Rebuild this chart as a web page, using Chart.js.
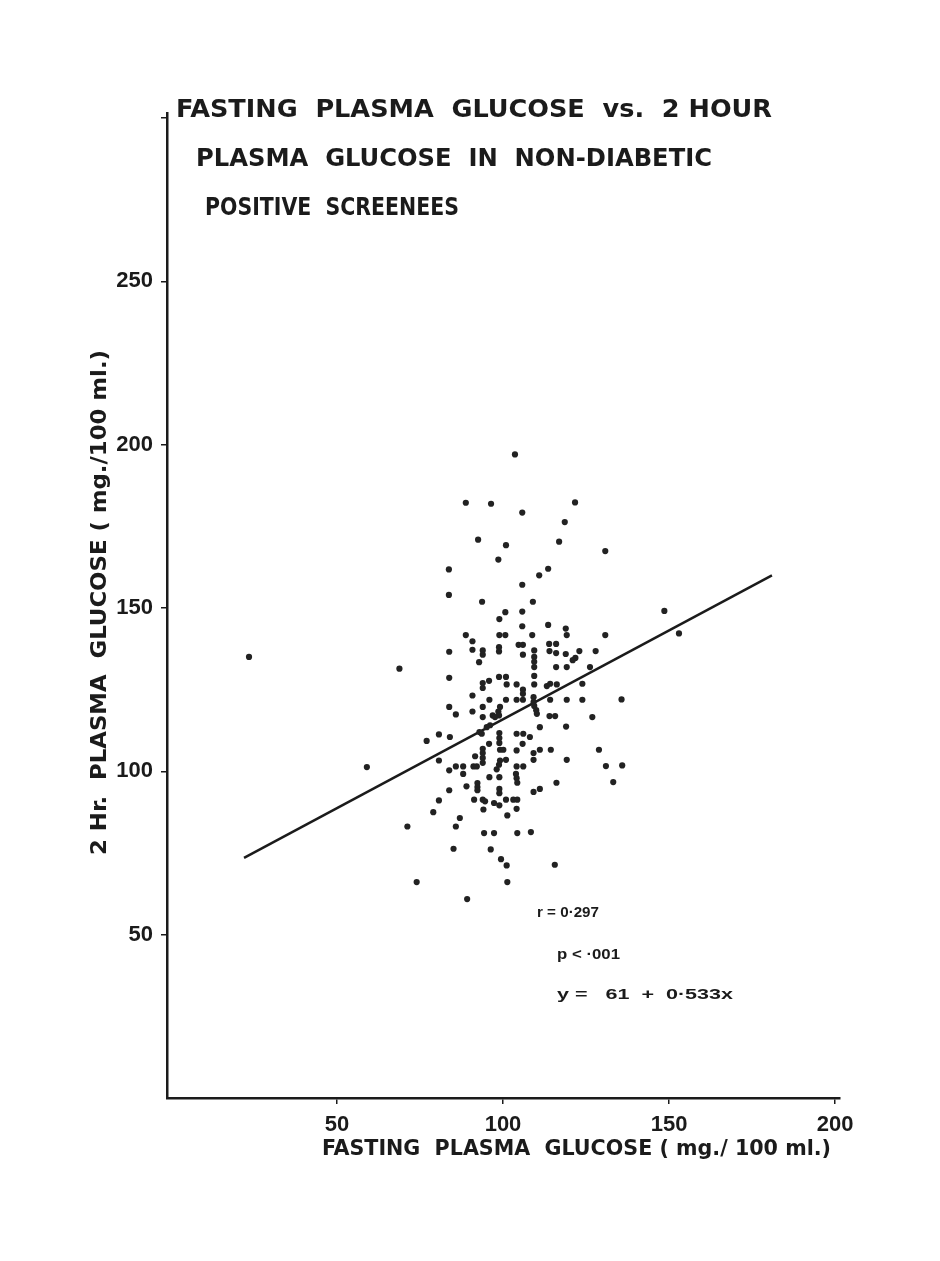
<!DOCTYPE html>
<html>
<head>
<meta charset="utf-8">
<title>Fasting plasma glucose vs. 2 hour plasma glucose</title>
<script src="https://cdn.jsdelivr.net/npm/chart.js@4.4.1/dist/chart.umd.min.js"></script>
<style>
  html, body { margin: 0; padding: 0; background: #fff; }
  #wrap { width: 940px; height: 1261px; position: relative; overflow: hidden; }
</style>
</head>
<body>
<div id="wrap"><canvas id="glucoseChart" width="940" height="1261"></canvas></div>
<script>
// values (mg./100 ml.)
var fastingGlucose = [
  23.5, 68.8,
  103.6, 88.8, 96.4, 121.7, 105.8, 118.6, 92.5, 100.9, 116.9, 130.8, 98.6, 83.7, 113.6, 110.9,
  105.8, 83.7, 93.7, 109.0, 100.7, 105.8, 98.9, 105.8, 113.6, 118.9, 88.8, 98.9, 100.7, 108.8,
  119.2, 130.8,
  90.8, 104.7, 106.0, 113.9, 116.0, 98.8, 83.8, 90.8, 93.9, 93.9, 98.8, 106.0, 109.4, 114.0,
  116.0, 118.9, 123.0, 127.9, 121.8, 121.0, 92.8, 109.4, 109.4, 109.4, 116.0, 119.2, 126.2,
  83.8, 98.8, 100.9, 95.8, 93.9, 93.9, 109.4, 101.1, 104.1, 109.4, 113.2, 114.2, 116.2, 123.9,
  106.0, 106.0, 90.8, 95.9, 100.9, 104.1, 106.0, 109.2, 109.2, 114.2, 119.2, 123.9, 135.7,
  83.8, 90.8, 93.9, 99.1, 98.6, 98.8, 109.4, 110.0, 110.2, 85.8, 93.9, 96.9, 97.6, 114.0, 115.7, 126.9,
  111.1, 119.0, 96.1, 95.1, 92.9, 93.6, 98.9, 98.9, 104.1, 106.1, 108.1, 80.7, 77.0, 84.0,
  95.8, 98.9, 105.9, 93.9, 93.9, 93.9, 93.9, 99.1, 100.1, 104.1, 111.1, 114.4, 128.9, 109.2, 91.6,
  99.1, 98.8, 100.9, 109.2, 119.2, 80.7,
  83.8, 85.8, 88.0, 91.1, 92.1, 88.0, 98.1, 104.1, 106.1, 103.9, 104.1, 104.3, 131.0, 135.9,
  95.9, 98.9, 133.2, 116.1, 89.0, 92.3, 92.3, 92.3, 98.9, 98.9, 83.8, 109.2, 111.1,
  80.7, 91.3, 93.9, 94.6, 97.3, 100.9, 103.1, 104.3, 94.1, 98.9, 104.1, 79.0, 87.0, 101.3,
  85.8, 94.3, 97.3, 104.3, 108.4, 85.1, 96.3, 99.4, 101.1, 115.6, 101.3, 89.2,
  59.0, 71.2, 74.0, 148.6, 153.0
];
var twoHourGlucose = [
  135.0, 131.4,
  197.0, 182.2, 181.9, 182.3, 179.2, 176.3, 170.9, 169.2, 170.3, 167.4, 164.8, 161.8, 162.0, 160.0,
  157.1, 154.0, 151.9, 151.9, 148.7, 148.9, 146.6, 144.4, 144.8, 143.7, 141.7, 141.7, 141.7, 141.7,
  141.7, 141.7,
  139.8, 138.7, 138.7, 139.0, 139.0, 138.0, 136.6, 137.2, 137.0, 135.7, 136.7, 135.7, 137.0, 136.8,
  136.2, 135.9, 136.8, 136.8, 134.7, 134.0, 133.4, 135.0, 133.5, 131.9, 131.9, 131.9, 131.9,
  128.6, 128.9, 128.9, 127.7, 127.0, 125.5, 129.2, 126.6, 126.6, 126.6, 126.1, 126.8, 126.6, 126.8,
  125.0, 123.7, 123.2, 121.9, 121.9, 121.9, 121.9, 122.7, 121.2, 121.9, 121.9, 121.9, 122.0,
  119.7, 118.3, 119.7, 119.7, 118.3, 117.1, 120.0, 118.7, 117.6, 117.4, 116.6, 117.1, 116.6, 116.9, 116.9, 116.6,
  113.5, 113.7, 114.1, 113.5, 112.0, 111.5, 111.7, 110.2, 111.5, 111.5, 110.5, 111.3, 109.3, 110.5,
  108.4, 108.7, 108.4, 106.9, 105.6, 104.1, 102.6, 106.6, 106.6, 106.4, 106.6, 106.6, 106.6, 105.6, 104.6,
  103.3, 102.0, 103.5, 103.5, 103.5, 103.3,
  100.3, 101.5, 101.5, 101.5, 101.5, 99.2, 100.6, 101.5, 101.5, 99.2, 97.9, 96.5, 101.6, 101.8,
  98.2, 98.2, 96.7, 96.5, 95.4, 96.4, 95.2, 94.2, 94.6, 93.3, 94.2, 93.7, 94.6,
  91.1, 91.3, 91.3, 90.8, 90.3, 91.3, 91.3, 91.3, 88.3, 89.6, 88.5, 87.5, 85.7, 86.5,
  83.1, 81.1, 81.1, 81.1, 81.4, 76.3, 76.1, 73.1, 71.2, 71.4, 66.1, 60.9,
  101.3, 83.1, 66.1, 149.1, 142.2
];
// end points of the drawn regression line
var fitLineX = [22, 181];
var fitLineY = [73.5, 160];

var xTicks = [50, 100, 150, 200];
var yTicks = [50, 100, 150, 200, 250, 300];
var yTickLabels = ['50', '100', '150', '200', '250', ''];

var titleLines = ['FASTING  PLASMA  GLUCOSE  vs.  2 HOUR', 'PLASMA  GLUCOSE  IN  NON-DIABETIC', 'POSITIVE  SCREENEES'];
var statLines = ['r = 0·297', 'p < ·001', 'y =   61  +  0·533x'];
var xAxisTitle = 'FASTING  PLASMA  GLUCOSE ( mg./ 100 ml.)';
var yAxisTitle = '2 Hr.  PLASMA  GLUCOSE ( mg./100 ml.)';

var INK = '#1b1b1b';
var narrowFont = '"DejaVu Sans Condensed", "Liberation Sans Narrow", "Liberation Sans", sans-serif';
var plainFont = '"Liberation Sans", Arial, sans-serif';

// draw a string stretched to a given width, left edge at x, middle at y
function fitText(ctx, text, x, y, width, font, rotate) {
  ctx.save();
  ctx.font = font;
  ctx.fillStyle = INK;
  ctx.textAlign = 'left';
  ctx.textBaseline = 'middle';
  var w = ctx.measureText(text).width;
  ctx.translate(x, y);
  if (rotate) ctx.rotate(-Math.PI / 2);
  ctx.scale(width / w, 1);
  ctx.fillText(text, 0, 0);
  ctx.restore();
}

var textPlugin = {
  id: 'scanText',
  afterDraw: function(chart) {
    var ctx = chart.ctx;
    var tf = 'bold 25px ' + narrowFont;
    fitText(ctx, titleLines[0], 176, 110, 596, tf);
    fitText(ctx, titleLines[1], 196, 159, 516, tf);
    fitText(ctx, titleLines[2], 205, 208, 254, tf);

    var af = 'bold 22px ' + narrowFont;
    fitText(ctx, xAxisTitle, 322, 1149, 509, af);
    fitText(ctx, yAxisTitle, 100, 855, 505, af, true);

    var sf = 'bold 15px ' + plainFont;
    fitText(ctx, statLines[0], 537, 913, 62, sf);
    fitText(ctx, statLines[1], 557, 955, 63, sf);
    fitText(ctx, statLines[2], 557, 995, 176, sf);
  }
};

function axisOptions(min, max, tickValues, labels) {
  return {
    type: 'linear',
    min: min,
    max: max,
    afterBuildTicks: function(axis) {
      axis.ticks = tickValues.map(function(v) { return { value: v }; });
    },
    border: { display: true, color: INK, width: 2.5 },
    grid: { display: true, drawOnChartArea: false, drawTicks: true, tickLength: 6, color: INK, lineWidth: 1.5 },
    ticks: {
      autoSkip: false,
      padding: 8,
      color: INK,
      font: { family: plainFont, size: 22, weight: 'bold' },
      callback: function(value) {
        var i = tickValues.indexOf(value);
        return labels ? labels[i] : String(value);
      }
    }
  };
}

var xScale = axisOptions(-1.2, 201.5, xTicks, null);
xScale.afterFit = function(scale) { scale.height = 163; };
var yScale = axisOptions(0, 301.5, yTicks, yTickLabels);
yScale.afterFit = function(scale) { scale.width = 167; };

var scatterPoints = fastingGlucose.map(function(x, i) { return { x: x, y: twoHourGlucose[i] }; });
var linePoints = fitLineX.map(function(x, i) { return { x: x, y: fitLineY[i] }; });

new Chart(document.getElementById('glucoseChart').getContext('2d'), {
  type: 'scatter',
  data: {
    datasets: [{
      label: 'Positive screenees',
      data: scatterPoints,
      pointRadius: 3.1,
      pointBackgroundColor: '#222',
      pointBorderWidth: 0
    }, {
      type: 'line',
      label: 'Regression',
      data: linePoints,
      borderColor: INK,
      borderWidth: 2.5,
      pointRadius: 0,
      fill: false
    }]
  },
  options: {
    responsive: false,
    animation: false,
    devicePixelRatio: 1,
    layout: { padding: { left: 0, right: 100, top: 113, bottom: 0 } },
    plugins: { legend: { display: false }, tooltip: { enabled: false } },
    scales: { x: xScale, y: yScale }
  },
  plugins: [textPlugin]
});
</script>
</body>
</html>
